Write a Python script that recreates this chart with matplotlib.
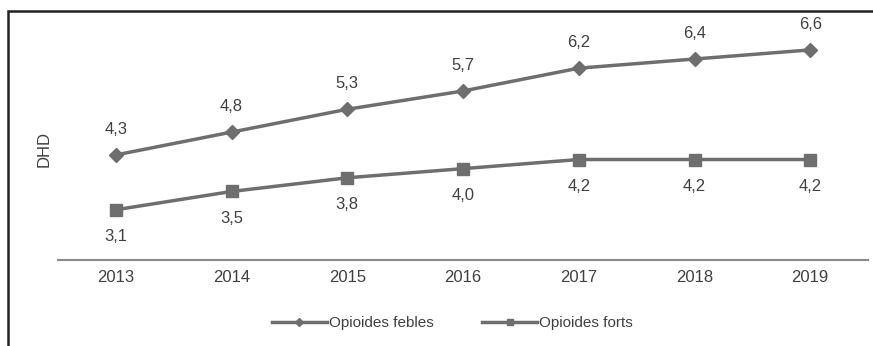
import matplotlib.pyplot as plt
from matplotlib.patches import Rectangle

plt.rcParams['font.family'] = ['Liberation Sans', 'DejaVu Sans']

years = ['2013', '2014', '2015', '2016', '2017', '2018', '2019']
febles = [4.3, 4.8, 5.3, 5.7, 6.2, 6.4, 6.6]
forts = [3.1, 3.5, 3.8, 4.0, 4.2, 4.2, 4.2]

line_col = '#6e6e6e'
text_col = '#404040'

fig = plt.figure(figsize=(8.73, 3.46), dpi=100)
ax = fig.add_axes([0.0664, 0.2486, 0.928, 0.66])

x = range(len(years))
ax.plot(x, febles, color=line_col, lw=2.5, marker='D', ms=7, label='Opioides febles')
ax.plot(x, forts, color=line_col, lw=2.5, marker='s', ms=8, label='Opioides forts')

for i, v in enumerate(febles):
    ax.annotate(f'{v:.1f}'.replace('.', ','), (i, v), xytext=(0, 13), textcoords='offset points',
                ha='center', va='bottom', fontsize=12, color=text_col)
for i, v in enumerate(forts):
    ax.annotate(f'{v:.1f}'.replace('.', ','), (i, v), xytext=(0, -14), textcoords='offset points',
                ha='center', va='top', fontsize=12, color=text_col)

ax.set_xlim(-0.5, len(years) - 0.5)
ax.set_ylim(2, 7)
ax.set_xticks(list(x))
ax.set_xticklabels(years, fontsize=12, color=text_col)
ax.tick_params(axis='x', length=0, pad=7)
ax.set_yticks([])
for s in ['top', 'right', 'left']:
    ax.spines[s].set_visible(False)
ax.spines['bottom'].set_color('#8a8a8a')
ax.spines['bottom'].set_linewidth(1.5)

fig.text(0.051, 0.57, 'DHD', rotation=90, ha='center', va='center', fontsize=12, color=text_col)

leg = fig.legend(loc='center', bbox_to_anchor=(0.518, 0.066), ncol=2, frameon=False,
                 fontsize=11, handlelength=3.6, handletextpad=0.1, columnspacing=3.2,
                 markerscale=0.6)
for t in leg.get_texts():
    t.set_color(text_col)

# outer frame
fig.patches.append(Rectangle((0.0095, -0.05), 1.0, 1.018, transform=fig.transFigure,
                             fill=False, edgecolor='#222222', lw=1.8))

fig.savefig('out.png', dpi=100)
